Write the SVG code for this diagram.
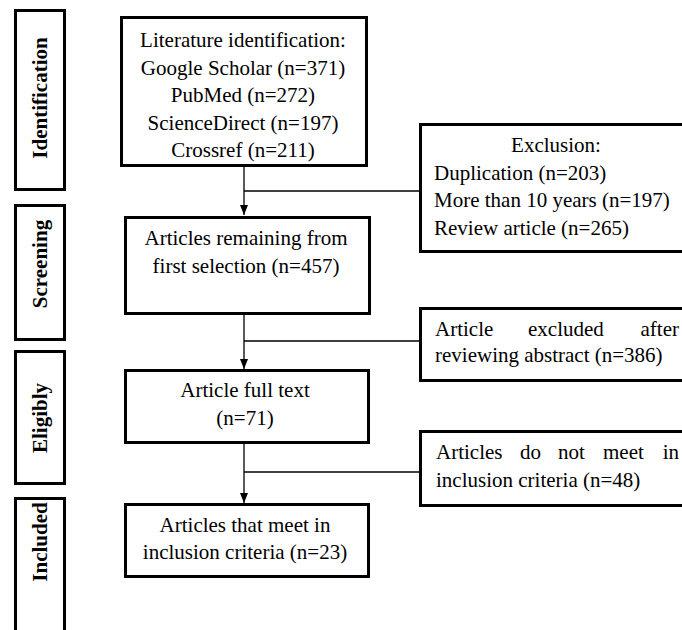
<svg xmlns="http://www.w3.org/2000/svg" width="682" height="630" viewBox="0 0 682 630">
<defs>
<style>
.box{fill:#fff;stroke:#000;stroke-width:3}
.t{font-family:"Liberation Serif","Times New Roman",serif;font-size:21px;fill:#000}
.c{text-anchor:middle}
.s{font-family:"Liberation Serif","Times New Roman",serif;font-size:21px;font-weight:bold;fill:#000;text-anchor:middle}
.ln{stroke:#000;stroke-width:1.3;fill:none}
</style>
<marker id="ah" viewBox="0 0 10 8" refX="10" refY="4" markerWidth="10" markerHeight="8" markerUnits="userSpaceOnUse" orient="auto">
<path d="M0,0 L10,4 L0,8 Z" fill="#000"/>
</marker>
</defs>
<rect width="682" height="630" fill="#fff"/>
<g id="stage-identification">
<rect class="box" x="15.5" y="10.5" width="49" height="179"/>
<text class="s" transform="translate(47,98) rotate(-90)">Identification</text>
</g>
<g id="stage-screening">
<rect class="box" x="15.5" y="205.5" width="49" height="134"/>
<text class="s" transform="translate(47,264) rotate(-90)">Screening</text>
</g>
<g id="stage-eligibly">
<rect class="box" x="15.5" y="351.5" width="49" height="132"/>
<text class="s" transform="translate(47,418) rotate(-90)">Eligibly</text>
</g>
<g id="stage-included">
<rect class="box" x="15.5" y="498.5" width="49" height="150"/>
<text class="s" transform="translate(47,542) rotate(-90)">Included</text>
</g>
<g id="connectors">
<line class="ln" x1="244" y1="167" x2="244" y2="215" marker-end="url(#ah)"/>
<line class="ln" x1="244" y1="191" x2="420" y2="191"/>
<line class="ln" x1="244" y1="315" x2="244" y2="369" marker-end="url(#ah)"/>
<line class="ln" x1="244" y1="341" x2="420" y2="341"/>
<line class="ln" x1="244" y1="444" x2="244" y2="503" marker-end="url(#ah)"/>
<line class="ln" x1="244" y1="472" x2="420" y2="472"/>
</g>
<g id="identification">
<rect class="box" x="121.5" y="17.5" width="245" height="148"/>
<text class="t c" x="243" y="47">Literature identification:</text>
<text class="t c" x="243" y="74.5">Google Scholar (n=371)</text>
<text class="t c" x="243" y="102">PubMed (n=272)</text>
<text class="t c" x="243" y="129.5">ScienceDirect (n=197)</text>
<text class="t c" x="243" y="157">Crossref (n=211)</text>
</g>
<g id="exclusion">
<rect class="box" x="420.5" y="124.5" width="290" height="127"/>
<text class="t c" x="556" y="152">Exclusion:</text>
<text class="t" x="434" y="180">Duplication (n=203)</text>
<text class="t" x="434" y="207">More than 10 years (n=197)</text>
<text class="t" x="434" y="235">Review article (n=265)</text>
</g>
<g id="screening">
<rect class="box" x="125.5" y="217.5" width="244" height="96"/>
<text class="t c" x="246" y="245">Articles remaining from</text>
<text class="t c" x="246" y="272.5">first selection (n=457)</text>
</g>
<g id="excluded-abstract">
<rect class="box" x="420.5" y="308.5" width="290" height="72"/>
<text class="t" x="435" y="335.5">Article</text>
<text class="t" x="528" y="335.5">excluded</text>
<text class="t" x="679" y="335.5" text-anchor="end">after</text>
<text class="t" x="435" y="361.5">reviewing abstract (n=386)</text>
</g>
<g id="full-text">
<rect class="box" x="125.5" y="370.5" width="243" height="72"/>
<text class="t c" x="245" y="396.5">Article full text</text>
<text class="t c" x="245" y="425">(n=71)</text>
</g>
<g id="not-meet">
<rect class="box" x="420.5" y="431.5" width="290" height="74"/>
<text class="t" x="436" y="459">Articles</text>
<text class="t" x="520" y="459">do</text>
<text class="t" x="558" y="459">not</text>
<text class="t" x="603" y="459">meet</text>
<text class="t" x="679" y="459" text-anchor="end">in</text>
<text class="t" x="436" y="486.5">inclusion criteria (n=48)</text>
</g>
<g id="included">
<rect class="box" x="125.5" y="504.5" width="243" height="72"/>
<text class="t c" x="245" y="531.5">Articles that meet in</text>
<text class="t c" x="245" y="558.5">inclusion criteria (n=23)</text>
</g>
</svg>
